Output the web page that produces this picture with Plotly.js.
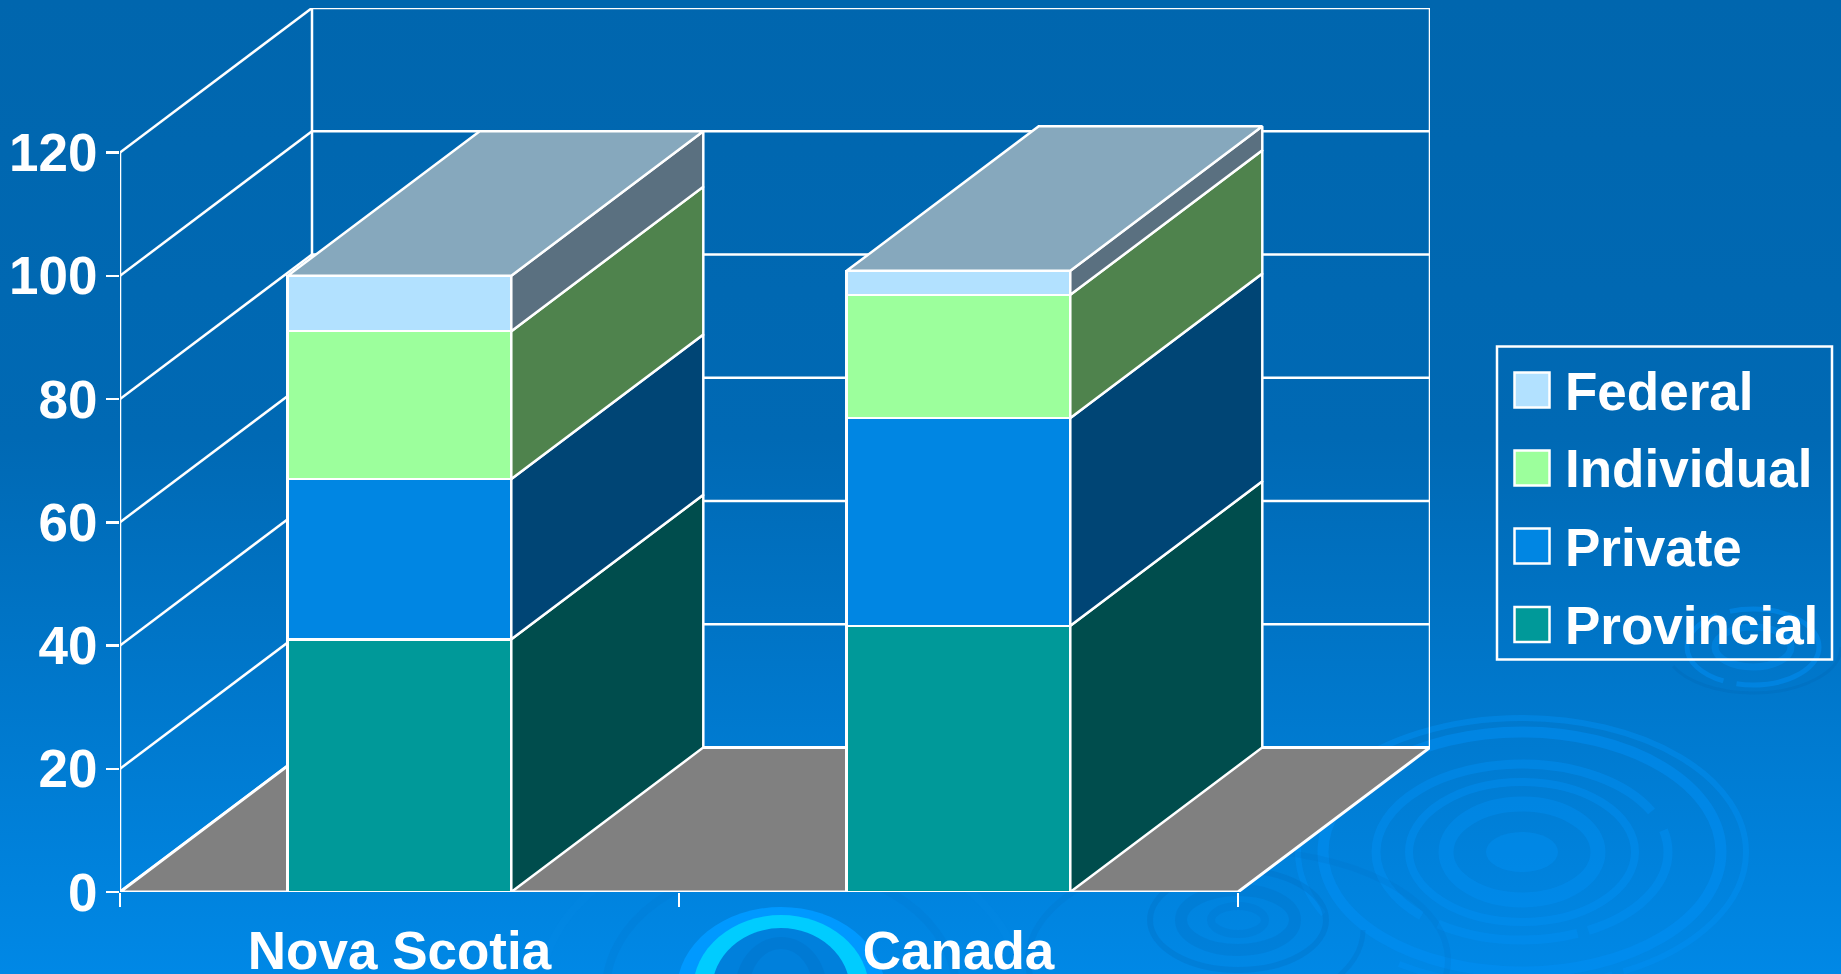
<!DOCTYPE html>
<html>
<head>
<meta charset="utf-8">
<script src="https://cdn.plot.ly/plotly-3.0.1.min.js"></script>
<style>
html,body{margin:0;padding:0;width:1841px;height:974px;overflow:hidden;background:#0078d0}
#bg{position:absolute;left:0;top:0;width:1841px;height:974px}
#chart{position:absolute;left:0;top:0;width:1841px;height:974px}
</style>
</head>
<body>
<svg id="bg" xmlns="http://www.w3.org/2000/svg" viewBox="0 0 1841 974">
  <defs>
    <linearGradient id="sky" x1="0" y1="0" x2="0" y2="1">
      <stop offset="0" stop-color="#0066ae"/>
      <stop offset="0.45" stop-color="#0069b4"/>
      <stop offset="1" stop-color="#0088e6"/>
    </linearGradient>
  </defs>
  <rect width="1841" height="974" fill="url(#sky)"/>
  <g id="ripples" fill="none"></g>
</svg>
<div id="chart"></div>
<script>
// ---- chart data ----
var categories = ['Nova Scotia', 'Canada'];
var seriesNames = ['Provincial', 'Private', 'Individual', 'Federal'];
var provincial = [41, 43.2];
var privateFunds = [26, 33.7];
var individual = [24, 20];
var federal = [9, 3.9];
var frontColors = ['#009999', '#0086e3', '#9cff9c', '#b2e1ff'];
var sideColors = ['#004d4d', '#004575', '#4f834d', '#5a7080'];
var topColor = '#86a8bd';
var floorColor = '#808080';
var valueTicks = [0, 20, 40, 60, 80, 100, 120];

// ---- decorative background ripples ----
var ripples = [
  // cx, cy, rx, ry, width, colour, opacity, dash
  [1522,852,36,20,0,'#0090f5',0.4,null,true],
  [1522,852,76,48,15,'#0090f5',0.4,null],
  [1522,852,113,70,8,'#0090f5',0.45,null],
  [1522,852,146,88,9,'#0090f5',0.45,'16 1.5 19 2.5 55 3 3'],
  [1522,852,199,120,11,'#0090f5',0.5,null],
  [1522,852,224,134,6,'#0090f5',0.45,'16 1 19 8 12 2 42'],
  [1753,647,66,38,5,'#0090f5',0.5,'30 4 30 4 32'],
  [1753,647,38,20,7,'#0090f5',0.4,null],
  [1753,647,88,46,3,'#005fa8',0.2,'45 55'],
  [1238,920,57,30,12,'#0070c4',0.3,null],
  [1238,920,27,14,8,'#0070c4',0.2,null],
  [1238,920,88,50,6,'#0070c4',0.35,null],
  [1238,930,125,78,5,'#0070c4',0.3,'26 74'],
  [1238,960,210,110,6,'#0070c4',0.18,null],
  [781,990,175,125,8,'#0078d0',0.25,null],
  [781,990,240,160,8,'#0a90ee',0.15,null],
  [781,990,104,83,0,'#0099ff',1,null,true],
  [781,990,88,75,0,'#00ccff',1,null,true],
  [781,990,69,62,0,'#0080dc',1,null,true],
  [781,990,46,53,0,'#007ad4',1,null,true],
  [781,990,32,41,0,'#0080dc',1,null,true]
];
var rippleGroup = document.getElementById('ripples');
ripples.forEach(function (r) {
  var e = document.createElementNS('http://www.w3.org/2000/svg', 'ellipse');
  e.setAttribute('cx', r[0]); e.setAttribute('cy', r[1]);
  e.setAttribute('rx', r[2]); e.setAttribute('ry', r[3]);
  e.setAttribute('opacity', r[6]);
  if (r[8]) { e.setAttribute('fill', r[5]); }
  else {
    e.setAttribute('stroke', r[5]); e.setAttribute('stroke-width', r[4]);
    if (r[7]) { e.setAttribute('pathLength', 100); e.setAttribute('stroke-dasharray', r[7]); }
  }
  rippleGroup.appendChild(e);
});

// ---- oblique projection on the library's axes ----
var plotLeft = 120, plotRight = 1430, plotTop = 8, plotBottom = 892;
var depthX = 192 / 559;          // axis units: one category = 1
var depthY = 23.45;              // axis units: value scale
var xMax = 2 + depthX, yMax = 120 + depthY;
var barWidth = 0.4;
var centers = [0.5, 1.5];
var LINE = '#ffffff';
var LW = 2.5;
var FONT = '"Liberation Sans", Arial, sans-serif';

var stacks = [provincial, privateFunds, individual, federal];
var traces = [];

// front faces: real stacked bars
stacks.forEach(function (vals, i) {
  traces.push({
    type: 'bar', name: seriesNames[i], x: centers, y: vals, width: barWidth,
    marker: { color: frontColors[i], line: { color: LINE, width: LW } },
    showlegend: false, hoverinfo: 'name+y'
  });
});

// side faces and top face, worked out from the same values
var running = [0, 0];
stacks.forEach(function (vals, i) {
  var xs = [], ys = [];
  vals.forEach(function (v, k) {
    var x1 = centers[k] + barWidth / 2;
    var y0 = running[k], y1 = running[k] + v;
    xs.push(x1, x1 + depthX, x1 + depthX, x1, x1, null);
    ys.push(y0, y0 + depthY, y1 + depthY, y1, y0, null);
    running[k] = y1;
  });
  traces.push({
    type: 'scatter', mode: 'lines', x: xs, y: ys, fill: 'toself',
    fillcolor: sideColors[i], line: { color: LINE, width: LW },
    showlegend: false, hoverinfo: 'skip'
  });
});
var tx = [], ty = [];
running.forEach(function (t, k) {
  var x0 = centers[k] - barWidth / 2, x1 = centers[k] + barWidth / 2;
  tx.push(x0, x1, x1 + depthX, x0 + depthX, x0, null);
  ty.push(t, t, t + depthY, t + depthY, t, null);
});
traces.push({
  type: 'scatter', mode: 'lines', x: tx, y: ty, fill: 'toself', fillcolor: topColor,
  line: { color: LINE, width: LW }, showlegend: false, hoverinfo: 'skip'
});

// walls and floor sit below all traces
var shapes = [];
function wall(x0, y0, x1, y1) {
  shapes.push({ type: 'line', layer: 'below', xref: 'x', yref: 'y', x0: x0, y0: y0, x1: x1, y1: y1,
    line: { color: LINE, width: LW } });
}
valueTicks.forEach(function (v) {
  wall(0, v, depthX, v + depthY);
  wall(depthX, v + depthY, xMax, v + depthY);
});
wall(0, 0, 0, 120);
wall(depthX, depthY, depthX, yMax);
wall(xMax, depthY, xMax, yMax);
shapes.push({ type: 'path', layer: 'below', xref: 'x', yref: 'y',
  path: 'M0,0 L2,0 L' + xMax + ',' + depthY + ' L' + depthX + ',' + depthY + ' Z',
  fillcolor: floorColor, line: { color: LINE, width: 3 } });

// legend box, drawn to the reference's proportions
function px(x) { return (x - plotLeft) / (plotRight - plotLeft); }
function py(y) { return (plotBottom - y) / (plotBottom - plotTop); }
shapes.push({ type: 'rect', xref: 'paper', yref: 'paper', x0: px(1497), x1: px(1832), y0: py(346.5), y1: py(659.5),
  fillcolor: 'rgba(0,0,0,0)', line: { color: LINE, width: LW } });
var annotations = [];
var rowY = [624.5, 546, 468, 390];
seriesNames.forEach(function (name, i) {
  shapes.push({ type: 'rect', xref: 'paper', yref: 'paper', x0: px(1514.5), x1: px(1549.5),
    y0: py(rowY[i] + 17.5), y1: py(rowY[i] - 17.5), fillcolor: frontColors[i], line: { color: LINE, width: LW } });
  annotations.push({ xref: 'paper', yref: 'paper', x: px(1563), y: py(rowY[i] + 1), xanchor: 'left', yanchor: 'middle',
    text: '<b>' + name + '</b>', showarrow: false, align: 'left',
    font: { family: FONT, size: 53, color: '#ffffff' } });
});

var layout = {
  width: 1841, height: 974,
  margin: { l: plotLeft, r: 1841 - plotRight, t: plotTop, b: 974 - plotBottom, pad: 0 },
  paper_bgcolor: 'rgba(0,0,0,0)', plot_bgcolor: 'rgba(0,0,0,0)',
  barmode: 'stack', showlegend: false,
  xaxis: {
    range: [0, xMax], showgrid: false, zeroline: false, showline: false, ticks: '',
    tickmode: 'array', tickvals: centers, ticktext: categories.map(function (c) { return '<b>' + c + '</b>'; }),
    tickfont: { family: FONT, size: 53, color: '#ffffff' }, ticklabelstandoff: 23,
    minor: { tickmode: 'linear', tick0: 0, dtick: 1, ticks: 'outside', ticklen: 14, tickwidth: LW, tickcolor: LINE, showgrid: false }
  },
  yaxis: {
    range: [0, yMax], showgrid: false, zeroline: false, showline: false,
    tickmode: 'array', tickvals: valueTicks, ticktext: valueTicks.map(function (v) { return '<b>' + v + '</b>'; }),
    ticks: 'outside', ticklen: 13, tickwidth: LW, tickcolor: LINE,
    tickfont: { family: FONT, size: 53, color: '#ffffff' }, ticklabelstandoff: -2
  },
  shapes: shapes, annotations: annotations
};
Plotly.newPlot('chart', traces, layout, { displayModeBar: false, staticPlot: true });
</script>
</body>
</html>
